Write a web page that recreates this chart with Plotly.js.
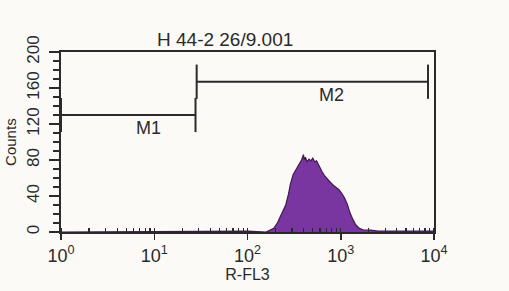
<!DOCTYPE html>
<html>
<head>
<meta charset="utf-8">
<script src="https://cdn.plot.ly/plotly-3.0.1.min.js"></script>
<style>
html,body{margin:0;padding:0;background:#fcfaf6;}
#chart{width:509px;height:291px;}
</style>
</head>
<body>
<div id="chart"></div>
<script>
// Histogram (R-FL3 channel value vs counts)
const fluorescence = [1, 100, 158, 178, 191, 209, 224, 240, 257, 275, 288, 309, 324, 339, 363, 380, 398, 407, 417, 437, 457, 479, 501, 525, 550, 575, 603, 631, 676, 724, 776, 832, 891, 955, 1023, 1096, 1175, 1259, 1349, 1445, 1585, 1778, 2089, 2512, 3981, 6310, 10000];
const counts       = [0, 1, 0, 2, 4, 10, 17, 24, 30, 42, 53, 64, 68, 72, 76, 80, 86, 80, 83, 78, 81, 79, 82, 78, 79, 75, 70, 67, 62, 58, 55, 52, 50, 47, 43, 38, 31, 21, 14, 8, 4, 2, 2, 1, 1, 1, 1];

// Marker gates
const gateNames = ['M1', 'M2'];
const gateStart = [1, 28.5];
const gateEnd   = [27.7, 8630];
const gateLevel = [130, 167];
const gateHalfBar = 19;

// Tick labels
const xTickVals = [1, 10, 100, 1000, 10000];
const xTickText = ['10<sup>0</sup>', '10<sup>1</sup>', '10<sup>2</sup>', '10<sup>3</sup>', '10<sup>4</sup>'];
const yTickVals = [0, 40, 80, 120, 160, 200];

const FONT = 'Liberation Sans, Arial, sans-serif';
const INK = '#2a2a2a';

const traces = [{
  x: fluorescence, y: counts, type: 'scatter', mode: 'lines',
  fill: 'tozeroy', fillcolor: '#7a36a0',
  line: {color: '#3b1c48', width: 1.2},
  hoverinfo: 'skip', showlegend: false
}];

const annotations = [];
gateNames.forEach((name, i) => {
  const s = gateStart[i], e = gateEnd[i], lv = gateLevel[i];
  traces.push({
    x: [s, e, null, s, s, null, e, e],
    y: [lv, lv, null, lv - gateHalfBar, lv + gateHalfBar, null, lv - gateHalfBar, lv + gateHalfBar],
    type: 'scatter', mode: 'lines',
    line: {color: INK, width: 2},
    hoverinfo: 'skip', showlegend: false, cliponaxis: false
  });
  const mid = Math.sqrt(s * e);
  annotations.push({
    x: Math.log10(mid) + (i === 0 ? 0.22 : 0.2), y: lv,
    xref: 'x', yref: 'y', text: name, showarrow: false,
    yanchor: 'top', yshift: -1,
    font: {family: FONT, size: 18, color: INK}
  });
});

annotations.push({
  xref: 'paper', yref: 'paper', x: 0.44, y: 1.0, yanchor: 'bottom', yshift: 0,
  text: 'H 44-2 26/9.001', showarrow: false,
  font: {family: FONT, size: 19, color: INK}
});
annotations.push({
  xref: 'paper', yref: 'paper', x: -0.137, y: 0.5, xanchor: 'center',
  text: 'Counts', textangle: -90, showarrow: false,
  font: {family: FONT, size: 15, color: INK}
});

const layout = {
  width: 509, height: 291,
  margin: {l: 61, r: 75, t: 52, b: 59},
  paper_bgcolor: '#fcfaf6', plot_bgcolor: '#fcfaf6',
  font: {family: FONT, color: INK},
  showlegend: false,
  xaxis: {
    type: 'log', range: [0, 4],
    tickvals: xTickVals, ticktext: xTickText,
    ticks: 'outside', ticklen: 6, tickwidth: 1.5, tickcolor: INK,
    minor: {ticks: 'inside', ticklen: 4, tickwidth: 1.2, tickcolor: INK, dtick: 'D1'},
    showline: true, linecolor: INK, linewidth: 2, mirror: true,
    showgrid: false, zeroline: false,
    tickfont: {family: FONT, size: 18, color: INK},
    title: {text: 'R-FL3', font: {family: FONT, size: 16, color: INK}, standoff: 0}
  },
  yaxis: {
    range: [0, 200],
    tickvals: yTickVals, tickangle: -90,
    ticks: 'outside', ticklen: 10, tickwidth: 1.5, tickcolor: INK,
    minor: {ticks: 'outside', ticklen: 6, tickwidth: 1.2, tickcolor: INK, dtick: 10},
    showline: true, linecolor: INK, linewidth: 2, mirror: true,
    showgrid: false, zeroline: false,
    ticklabelstandoff: 3,
    tickfont: {family: FONT, size: 17, color: INK}
  },
  annotations: annotations
};

Plotly.newPlot('chart', traces, layout, {staticPlot: true, displayModeBar: false});
</script>
</body>
</html>
